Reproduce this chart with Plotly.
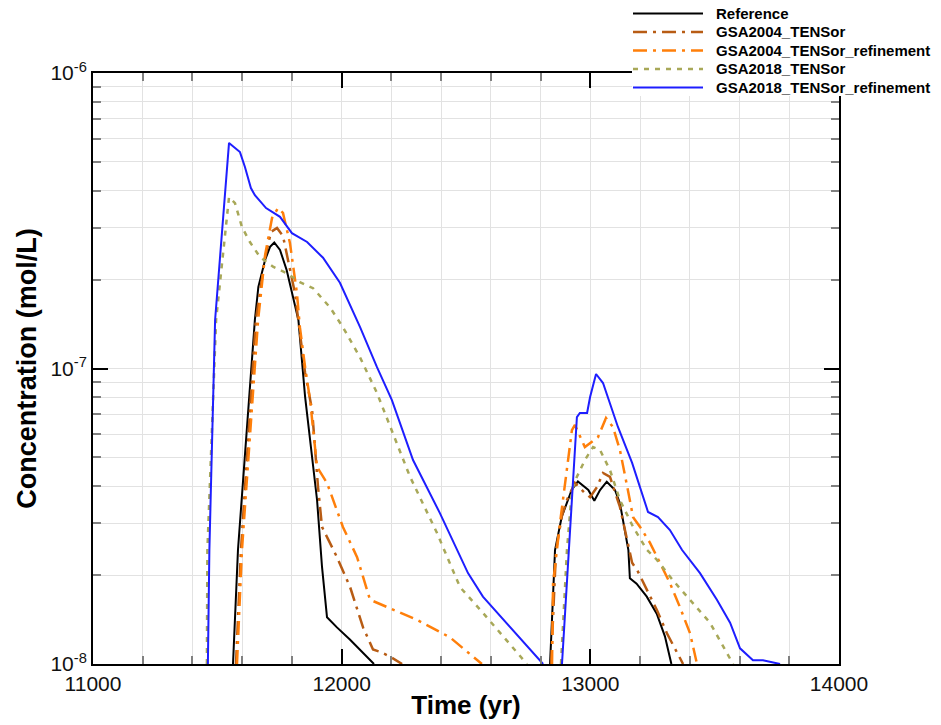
import plotly.graph_objects as go

# ---------------- data (time in yr, concentration in mol/L) ----------------
ref_t = [11563, 11583, 11651, 11665, 11692, 11712, 11729, 11752, 11779, 11805, 11826,
         11853, 11901, 11921, 11941, 11981, 12033, 12130,
         None,
         12838, 12858, 12885, 12905, 12925, 12950, 12992, 13016, 13039, 13066, 13099,
         13119, 13139, 13153, 13159, 13186, 13227, 13267, 13300, 13326]
ref_c = [1.0e-8, 2.43e-8, 1.46e-7, 1.89e-7, 2.33e-7, 2.58e-7, 2.67e-7, 2.52e-7, 2.15e-7, 1.71e-7, 1.46e-7,
         8.01e-8, 3.59e-8, 2.13e-8, 1.44e-8, 1.33e-8, 1.21e-8, 1.0e-8,
         None,
         1.0e-8, 2.43e-8, 3.15e-8, 3.50e-8, 3.88e-8, 4.15e-8, 3.88e-8, 3.57e-8, 3.88e-8, 4.14e-8, 3.88e-8,
         3.50e-8, 2.84e-8, 2.43e-8, 1.95e-8, 1.87e-8, 1.69e-8, 1.48e-8, 1.24e-8, 1.0e-8]

g04_t = [11575, 11595, 11655, 11692, 11716, 11740, 11764, 11784, 11812, 11832, 11853,
         11881, 11905, 11921, 11981, 12034, 12086, 12126, 12154, 12194, 12243,
         None,
         12842, 12862, 12886, 12906, 12938, 12978, 12999, 13027, 13051, 13079, 13119,
         13147, 13168, 13192, 13228, 13268, 13308, 13373]
g04_c = [1.0e-8, 2.43e-8, 1.46e-7, 2.37e-7, 2.90e-7, 2.99e-7, 2.81e-7, 2.33e-7, 1.80e-7, 1.32e-7, 9.66e-8,
         7.24e-8, 3.97e-8, 2.91e-8, 2.30e-8, 1.82e-8, 1.33e-8, 1.12e-8, 1.10e-8, 1.06e-8, 1.0e-8,
         None,
         1.0e-8, 2.43e-8, 3.18e-8, 3.59e-8, 4.10e-8, 3.79e-8, 3.67e-8, 3.97e-8, 4.43e-8, 4.30e-8, 3.40e-8,
         2.63e-8, 2.20e-8, 2.05e-8, 1.78e-8, 1.52e-8, 1.27e-8, 1.0e-8]

g04r_t = [11579, 11599, 11664, 11692, 11720, 11744, 11764, 11792, 11820, 11832, 11853,
          11873, 11901, 11941, 12005, 12062, 12114, 12166, 12303, 12436, 12564,
          None,
          12846, 12850, 12878, 12906, 12926, 12938, 12978, 13031, 13063, 13091, 13119,
          13151, 13172, 13200, 13240, 13280, 13320, 13360, 13401, 13429]
g04r_c = [1.0e-8, 2.43e-8, 1.46e-7, 2.42e-7, 3.23e-7, 3.49e-7, 3.36e-7, 2.66e-7, 1.80e-7, 1.38e-7, 1.01e-7,
          7.82e-8, 4.64e-8, 4.10e-8, 2.91e-8, 2.30e-8, 1.65e-8, 1.58e-8, 1.41e-8, 1.23e-8, 1.0e-8,
          None,
          1.0e-8, 1.87e-8, 3.00e-8, 4.64e-8, 6.19e-8, 6.44e-8, 5.42e-8, 5.86e-8, 6.80e-8, 6.34e-8, 5.30e-8,
          3.88e-8, 3.14e-8, 2.91e-8, 2.57e-8, 2.20e-8, 1.88e-8, 1.56e-8, 1.27e-8, 1.0e-8]

g18_t = [11458, 11460, 11495, 11547, 11571, 11599, 11631, 11672, 11724, 11780, 11832,
         11885, 11953, 12005, 12074, 12142, 12275, 12383, 12476, 12568, 12745,
         None,
         12882, 12906, 12926, 12946, 12978, 13011, 13039, 13079, 13119, 13172, 13228,
         13268, 13332, 13401, 13481, 13574]
g18_c = [1.0e-8, 2.43e-8, 1.46e-7, 3.80e-7, 3.63e-7, 3.01e-7, 2.68e-7, 2.38e-7, 2.21e-7, 2.10e-7, 1.96e-7,
         1.87e-7, 1.61e-7, 1.38e-7, 1.09e-7, 8.26e-8, 4.30e-8, 2.78e-8, 1.82e-8, 1.49e-8, 1.0e-8,
         None,
         1.0e-8, 2.43e-8, 3.88e-8, 4.30e-8, 4.90e-8, 5.42e-8, 5.30e-8, 4.53e-8, 3.59e-8, 2.91e-8, 2.43e-8,
         2.25e-8, 1.92e-8, 1.65e-8, 1.38e-8, 1.0e-8]

g18r_t = [11462, 11468, 11491, 11547, 11591, 11611, 11635, 11651, 11696, 11752, 11800,
          11861, 11925, 11993, 12074, 12142, 12202, 12287, 12395, 12508, 12568, 12798, 12810,
          None,
          12886, 12946, 12958, 12987, 12999, 13023, 13051, 13079, 13111, 13168, 13200,
          13232, 13272, 13320, 13369, 13441, 13509, 13562, 13602, 13654, 13694, 13730, 13763]
g18r_c = [1.0e-8, 2.43e-8, 1.46e-7, 5.80e-7, 5.40e-7, 4.81e-7, 4.08e-7, 3.86e-7, 3.49e-7, 3.26e-7, 2.87e-7,
          2.68e-7, 2.37e-7, 1.95e-7, 1.38e-7, 1.01e-7, 7.82e-8, 4.90e-8, 3.24e-8, 2.03e-8, 1.69e-8, 1.03e-8, 1.0e-8,
          None,
          1.0e-8, 6.85e-8, 7.07e-8, 7.07e-8, 8.01e-8, 9.58e-8, 8.93e-8, 7.64e-8, 6.34e-8, 4.79e-8, 3.97e-8,
          3.27e-8, 3.14e-8, 2.84e-8, 2.43e-8, 2.03e-8, 1.65e-8, 1.38e-8, 1.13e-8, 1.03e-8, 1.03e-8, 1.016e-8, 1.0e-8]

names = ["Reference", "GSA2004_TENSor", "GSA2004_TENSor_refinement",
         "GSA2018_TENSor", "GSA2018_TENSor_refinement"]

x_ticks = [11000, 12000, 13000, 14000]
x_ticktext = ["11000", "12000", "13000", "14000"]
y_ticks = [1e-8, 1e-7, 1e-6]
y_ticktext = ["10<sup>-8</sup>", "10<sup>-7</sup>", "10<sup>-6</sup>"]
y_minor = [m * 10.0 ** e for e in (-8, -7) for m in range(2, 10)]

FONT = "Liberation Sans, Arial, Helvetica, sans-serif"
W, H = 941, 725
ML, MR, MT, MB = 93, 102, 73, 61
PW, PH = W - ML - MR, H - MT - MB

styles = [
    dict(color="#000000", width=2, dash="solid"),
    dict(color="#b85c14", width=2.5, dash="14px,6px,3px,6px"),
    dict(color="#ff7f0a", width=2.5, dash="14px,6px,3px,6px"),
    dict(color="#a8a858", width=2.5, dash="5px,6px"),
    dict(color="#1e1eff", width=2, dash="solid"),
]
data = [(ref_t, ref_c), (g04_t, g04_c), (g04r_t, g04r_c), (g18_t, g18_c), (g18r_t, g18r_c)]

fig = go.Figure()
for (t, c), n, ln in zip(data, names, styles):
    fig.add_trace(go.Scatter(x=t, y=c, name=n, mode="lines", line=ln,
                             connectgaps=False, showlegend=False))


def px_x(p):
    return (p - ML) / PW


def px_y(p):
    return (H - MB - p) / PH


# custom legend (box at top right, overlapping the frame as in the reference)
shapes = [dict(type="rect", xref="paper", yref="paper", layer="above",
               x0=px_x(632), x1=px_x(W + 5), y0=px_y(96), y1=px_y(-5),
               fillcolor="white", line=dict(width=0))]
annotations = []
row_y = [13.5, 32, 50.5, 69, 87.5]
for n, ln, ry in zip(names, styles, row_y):
    shapes.append(dict(type="line", xref="paper", yref="paper", layer="above",
                       x0=px_x(633), x1=px_x(703), y0=px_y(ry), y1=px_y(ry),
                       line=dict(color=ln["color"], width=ln["width"], dash=ln["dash"])))
    annotations.append(dict(xref="paper", yref="paper", x=px_x(714), y=px_y(ry),
                            xanchor="left", yanchor="middle", showarrow=False,
                            text="<b>" + n + "</b>",
                            font=dict(family=FONT, size=15, color="#000000")))

fig.update_layout(
    width=W, height=H,
    margin=dict(l=ML, r=MR, t=MT, b=MB, autoexpand=False),
    paper_bgcolor="white", plot_bgcolor="white",
    font=dict(family=FONT, color="#111111"),
    showlegend=False,
    shapes=shapes, annotations=annotations,
)

fig.update_xaxes(
    range=[11000, 14000], tickmode="array", tickvals=x_ticks, ticktext=x_ticktext,
    ticks="inside", ticklen=15, tickwidth=2, tickcolor="black",
    showline=True, linewidth=2, linecolor="black", mirror="allticks",
    showgrid=True, gridcolor="#e2e2e2", gridwidth=1, zeroline=False,
    tickfont=dict(family=FONT, size=21, color="#111111"),
    minor=dict(dtick=200, ticks="inside", ticklen=8, tickwidth=1.5,
               tickcolor="#808080", showgrid=True, gridcolor="#e2e2e2", gridwidth=1),
    title=dict(text="<b>Time (yr)</b>", font=dict(family=FONT, size=26, color="#000000"),
               standoff=2),
)
fig.update_yaxes(
    type="log", range=[-8, -6], tickmode="array", tickvals=y_ticks, ticktext=y_ticktext,
    ticks="inside", ticklen=15, tickwidth=2, tickcolor="black",
    showline=True, linewidth=2, linecolor="black", mirror="allticks",
    showgrid=True, gridcolor="#e2e2e2", gridwidth=1, zeroline=False,
    tickfont=dict(family=FONT, size=21, color="#111111"),
    minor=dict(tickmode="array", tickvals=y_minor, ticks="inside", ticklen=8, tickwidth=1.5,
               tickcolor="#808080", showgrid=True, gridcolor="#e2e2e2", gridwidth=1),
    title=dict(text="<b>Concentration (mol/L)</b>", font=dict(family=FONT, size=27, color="#000000"),
               standoff=6),
)

fig.write_html("out.html")
